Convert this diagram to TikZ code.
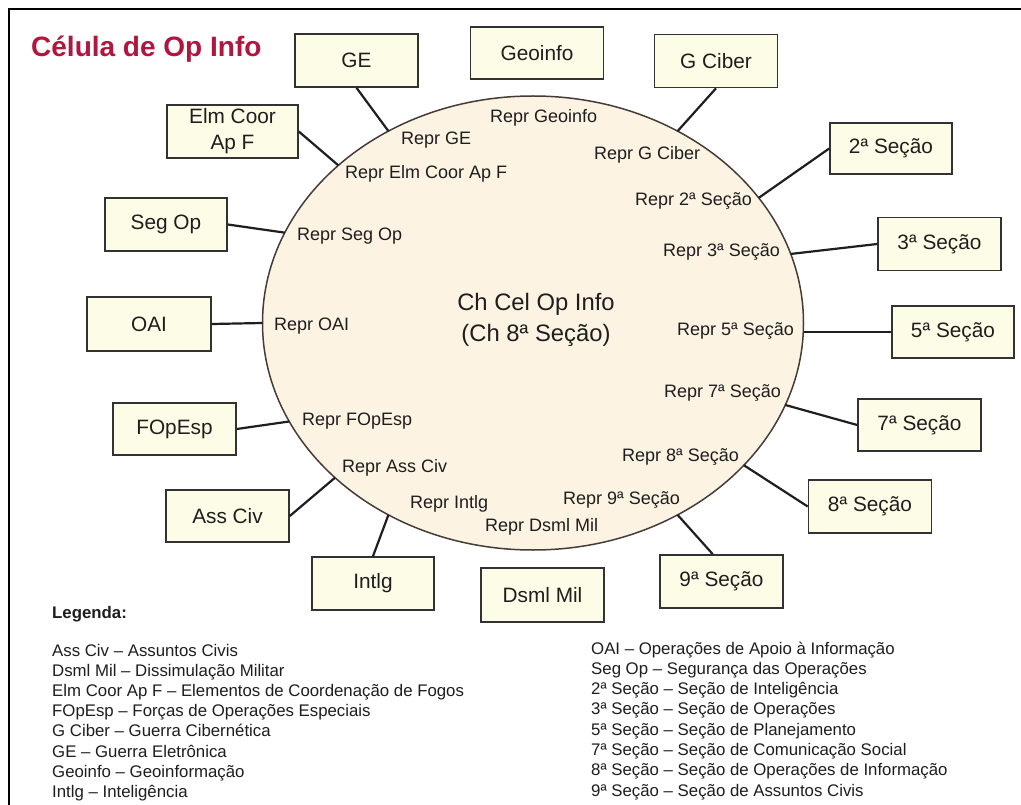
\documentclass[tikz,border=0pt]{standalone}
\usepackage{fontspec}
\setmainfont{Liberation Sans}
\usetikzlibrary{shapes.geometric,calc}
\definecolor{boxfill}{RGB}{253,252,230}
\definecolor{ellfill}{RGB}{252,243,227}
\definecolor{ellline}{RGB}{70,60,55}
\definecolor{titlecol}{RGB}{176,22,62}
\definecolor{txt}{RGB}{30,30,30}
\definecolor{edge}{RGB}{50,50,50}
\begin{document}
\begin{tikzpicture}[x=1pt,y=-1pt,
  box/.style={draw=edge, line width=1.6pt, fill=boxfill, minimum width=123pt, minimum height=53pt, inner sep=0pt, font=\fontsize{20.8}{26}\selectfont, text=txt, align=center},
  repr/.style={anchor=west, inner sep=0pt, font=\fontsize{18}{20}\selectfont, text=txt},
  link/.style={line width=2.2pt, draw=black!88},
  leg/.style={anchor=base west, inner sep=0pt, font=\fontsize{16.8}{20}\selectfont, text=txt}]

\useasboundingbox (0,0) rectangle (1021,805);
\fill[white] (0,0) rectangle (1021,805);
\draw[line width=2.6pt] (9,805) -- (9,9) -- (1021,9);

% title
\node[anchor=base west, inner sep=0pt, font=\bfseries\fontsize{28}{30}\selectfont, text=titlecol] (title) at (31,57) {Célula de Op Info};

% central ellipse
\node[ellipse, draw=ellline, line width=1.5pt, fill=ellfill, minimum width=541pt, minimum height=454pt, inner sep=0pt, outer sep=0pt] (E) at (533,323) {};
\node[align=center, inner sep=0pt, font=\fontsize{23.8}{31}\selectfont, text=txt] (ch) at (536,320) {Ch Cel Op Info\\(Ch 8ª Seção)};

% boxes
\node[box] (GE) at (356.5,60.5) {GE};
\node[box, minimum width=133pt, minimum height=52pt] (Geo) at (537,53) {Geoinfo};
\node[box] (GC) at (716,61) {G Ciber};
\node[box, minimum width=131pt] (Elm) at (232.5,131.5) {Elm Coor\\Ap F};
\node[box, minimum width=122pt, minimum height=51pt] (S2) at (891,148.5) {2ª Seção};
\node[box, minimum width=122pt] (SegOp) at (166,224.5) {Seg Op};
\node[box] (S3) at (939.5,244) {3ª Seção};
\node[box, minimum width=124pt, minimum height=54pt] (OAI) at (149,324) {OAI};
\node[box, minimum width=122pt, minimum height=52pt] (S5) at (953,332) {5ª Seção};
\node[box, minimum height=52pt] (FOp) at (174.5,429) {FOpEsp};
\node[box, minimum height=52pt] (S7) at (919.5,425) {7ª Seção};
\node[box, minimum height=52pt] (Ass) at (227.5,516) {Ass Civ};
\node[box] (S8) at (870,506.5) {8ª Seção};
\node[box, minimum width=122pt] (Int) at (373,583.5) {Intlg};
\node[box, minimum height=54pt] (Dsml) at (542.5,595) {Dsml Mil};
\node[box] (S9) at (721.5,581.5) {9ª Seção};

% connectors
\draw[link] (GE.south) -- (E.127.2);
\draw[link] ($(Geo.south)+(-2,0)$) -- ($(Geo.south)+(-2,0)$ |- E.north);
\draw[link] (GC.south) -- (E.53);
\draw[link] (Elm.east) -- (E.141.5);
\draw[link] (S2.west) -- (E.29.7);
\draw[link] (SegOp.east) -- (E.160.6);
\draw[link] (S3.west) -- (E.15.1);
\draw[link] (OAI.east) -- (E.180);
\draw[link] (S5.west) -- (S5.west -| E.east);
\draw[link] (FOp.east) -- (E.202.6);
\draw[link] (S7.west) -- (E.342.5);
\draw[link] (Ass.east) -- (E.218);
\draw[link] (S8.west) -- (E.326.6);
\draw[link] (Int.north) -- (E.233.6);
\draw[link] ($(Dsml.north)+(-5,0)$) -- ($(Dsml.north)+(-5,0)$ |- E.south);
\draw[link] ($(S9.north west)!0.43!(S9.north east)$) -- (E.307.5);

% representative labels
\node[repr] (rGeo) at (490,118) {Repr Geoinfo};
\node[repr] (rGE) at (401,140) {Repr GE};
\node[repr] (rGC) at (594,155) {Repr G Ciber};
\node[repr] (rElm) at (345,174) {Repr Elm Coor Ap F};
\node[repr] (rS2) at (635,201) {Repr 2ª Seção};
\node[repr] (rSeg) at (297,236) {Repr Seg Op};
\node[repr] (rS3) at (663,252) {Repr 3ª Seção};
\node[repr] (rOAI) at (274,326) {Repr OAI};
\node[repr] (rS5) at (677,331) {Repr 5ª Seção};
\node[repr] (rS7) at (664,393) {Repr 7ª Seção};
\node[repr] (rFOp) at (302,421) {Repr FOpEsp};
\node[repr] (rS8) at (622,457) {Repr 8ª Seção};
\node[repr] (rAss) at (342,468) {Repr Ass Civ};
\node[repr] (rInt) at (410,504) {Repr Intlg};
\node[repr] (rS9) at (563,500) {Repr 9ª Seção};
\node[repr] (rDsml) at (485,527) {Repr Dsml Mil};

% legend
\node[leg, font=\bfseries\fontsize{16.8}{20}\selectfont] (legT) at (52,618) {Legenda:};
\foreach \t [count=\i] in {Ass Civ – Assuntos Civis, Dsml Mil – Dissimulação Militar, Elm Coor Ap F – Elementos de Coordenação de Fogos, FOpEsp – Forças de Operações Especiais, G Ciber – Guerra Cibernética, GE – Guerra Eletrônica, Geoinfo – Geoinformação, Intlg – Inteligência}
  \node[leg] (la\i) at (52,{656+20.2*(\i-1)}) {\t};
\foreach \t [count=\i] in {OAI – Operações de Apoio à Informação, Seg Op – Segurança das Operações, 2ª Seção – Seção de Inteligência, 3ª Seção – Seção de Operações, 5ª Seção – Seção de Planejamento, 7ª Seção – Seção de Comunicação Social, 8ª Seção – Seção de Operações de Informação, 9ª Seção – Seção de Assuntos Civis}
  \node[leg] (lb\i) at (591,{654+20.3*(\i-1)}) {\t};
\end{tikzpicture}
\end{document}
